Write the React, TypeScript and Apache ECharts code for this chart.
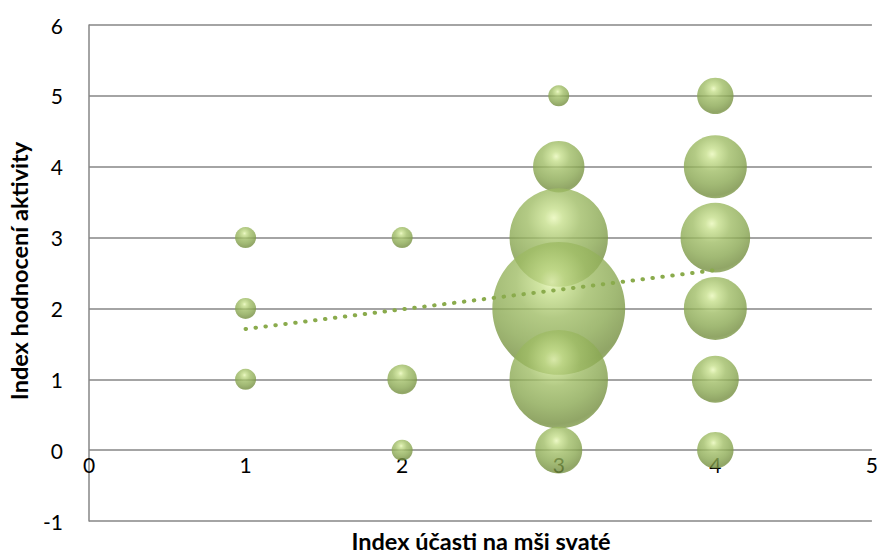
import React, { useEffect, useRef } from "react";
import * as echarts from "echarts";

const xValues = [1, 1, 1, 2, 2, 2, 3, 3, 3, 3, 3, 3, 4, 4, 4, 4, 4, 4];
const yValues = [3, 2, 1, 3, 1, 0, 5, 4, 3, 2, 1, 0, 5, 4, 3, 2, 1, 0];
const bubbleSizes = [1, 1, 1, 1, 2, 1, 1, 6, 22, 40, 22, 5, 3, 9, 11, 9, 5, 3];
const trendX = [1, 4];
const trendY = [1.71, 2.54];
const xTitle = "Index účasti na mši svaté";
const yTitle = "Index hodnocení aktivity";

const FONT = "Lato";

export default function App() {
  const ref = useRef<HTMLDivElement>(null);
  useEffect(() => {
    if (!ref.current) return;
    const chart = echarts.init(ref.current, undefined, { renderer: "svg" });
    const bubbleData = xValues.map((x, i) => [x, yValues[i], bubbleSizes[i]]);
    const sphere = new echarts.graphic.RadialGradient(0.45, 0.3, 0.78, [
      { offset: 0, color: "#e8f7b8" },
      { offset: 0.12, color: "#c6df8c" },
      { offset: 0.35, color: "#a0bd66" },
      { offset: 0.62, color: "#8aa852" },
      { offset: 0.84, color: "#758f40" },
      { offset: 0.94, color: "#86a151" },
      { offset: 1, color: "#b8d08c" },
    ]);
    chart.setOption({
      animation: false,
      textStyle: { fontFamily: FONT },
      grid: { left: 89, right: 9, top: 25, bottom: 34, containLabel: false },
      xAxis: {
        type: "value",
        position: "bottom",
        offset: -71,
        min: 0,
        max: 5,
        interval: 1,
        axisLine: { show: false, onZero: false },
        axisTick: { show: false },
        splitLine: { show: false },
        axisLabel: { color: "#000", fontSize: 21, fontFamily: FONT, margin: 4 },
      },
      yAxis: {
        type: "value",
        min: -1,
        max: 6,
        interval: 1,
        axisLine: { show: true, onZero: false, lineStyle: { color: "#868686", width: 1.5 } },
        axisTick: { show: false },
        splitLine: { show: true, lineStyle: { color: "#868686", width: 1.5 } },
        axisLabel: { color: "#000", fontSize: 21, fontFamily: FONT, margin: 26 },
      },
      graphic: [
        {
          type: "text",
          x: 481,
          y: 541,
          style: {
            text: xTitle,
            font: `bold 23.5px ${FONT}`,
            fill: "#000",
            textAlign: "center",
            textVerticalAlign: "middle",
          },
        },
        {
          type: "text",
          x: 19,
          y: 271,
          rotation: Math.PI / 2,
          style: {
            text: yTitle,
            font: `bold 23.5px ${FONT}`,
            fill: "#000",
            textAlign: "center",
            textVerticalAlign: "middle",
          },
        },
      ],
      series: [
        {
          type: "scatter",
          data: bubbleData,
          symbolSize: (v: number[]) => 21 * Math.sqrt(v[2]),
          itemStyle: { color: sphere, opacity: 0.8 },
          z: 2,
        },
        {
          type: "line",
          data: trendX.map((x, i) => [x, trendY[i]]),
          showSymbol: false,
          symbol: "none",
          lineStyle: { color: "#8aab4c", width: 4, type: [0.5, 9.5], cap: "round" },
          z: 3,
        },
      ],
    });
    return () => chart.dispose();
  }, []);
  return (
    <div
      ref={ref}
      style={{ position: "absolute", left: 0, top: 0, width: 881, height: 555 }}
    />
  );
}
